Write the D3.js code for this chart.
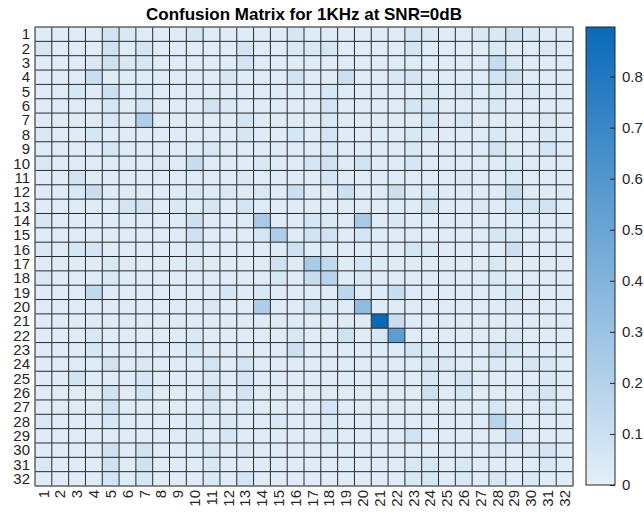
<!DOCTYPE html>
<html>
<head>
<meta charset="utf-8">
<script src="https://cdn.jsdelivr.net/npm/d3@7"></script>
<style>
  body { margin: 0; background: #fff; }
  text { font-family: "Liberation Sans", Arial, sans-serif; fill: #262626; }
</style>
</head>
<body>
<div id="chart"></div>
<script>
const title = "Confusion Matrix for 1KHz at SNR=0dB"
const classes = d3.range(1, 33).map(String)
const colorTicks = [0, 0.1, 0.2, 0.3, 0.4, 0.5, 0.6, 0.7, 0.8]
const colorMax = 0.897

// rows = true class, columns = predicted class
const matrix = [
  [.02,.02,.02,.02,.08,.05,.02,.02, .02,.06,.02,.02,.02,.02,.02,.06, .02,.02,.02,.02,.02,.02,.07,.05, .02,.02,.05,.05,.09,.05,.02,.02],
  [.06,.02,.02,.02,.08,.02,.07,.02, .02,.02,.02,.02,.07,.02,.02,.05, .05,.06,.02,.02,.02,.02,.07,.02, .02,.02,.02,.05,.02,.02,.05,.02],
  [.02,.02,.02,.05,.09,.05,.06,.02, .02,.02,.02,.02,.07,.02,.02,.02, .02,.02,.02,.02,.02,.02,.02,.02, .02,.02,.02,.13,.05,.02,.02,.02],
  [.02,.02,.02,.11,.02,.02,.02,.02, .02,.02,.02,.06,.02,.02,.02,.08, .02,.02,.10,.02,.02,.05,.07,.02, .02,.02,.02,.08,.09,.02,.02,.02],
  [.02,.02,.06,.02,.10,.02,.05,.02, .02,.02,.02,.02,.02,.02,.02,.02, .02,.06,.02,.02,.02,.02,.02,.06, .02,.05,.02,.05,.02,.05,.02,.02],
  [.02,.02,.02,.02,.06,.02,.07,.02, .02,.02,.08,.05,.02,.02,.02,.02, .02,.07,.02,.02,.02,.02,.07,.06, .02,.02,.02,.05,.02,.02,.02,.02],
  [.02,.02,.02,.02,.06,.02,.22,.02, .02,.02,.02,.02,.07,.02,.02,.02, .02,.05,.02,.02,.02,.02,.02,.07, .02,.06,.02,.02,.02,.02,.05,.02],
  [.05,.02,.02,.06,.02,.02,.02,.02, .02,.02,.02,.02,.06,.02,.02,.06, .02,.07,.02,.02,.02,.02,.05,.05, .02,.02,.02,.05,.02,.02,.05,.02],
  [.02,.02,.02,.02,.06,.02,.02,.02, .02,.02,.05,.02,.02,.02,.02,.02, .02,.05,.02,.02,.02,.02,.05,.02, .02,.02,.02,.08,.02,.02,.07,.02],
  [.05,.02,.02,.02,.02,.02,.02,.05, .02,.12,.02,.02,.02,.05,.02,.02, .06,.08,.02,.08,.02,.02,.06,.02, .02,.02,.02,.02,.05,.02,.02,.02],
  [.02,.02,.08,.02,.02,.02,.02,.02, .02,.02,.02,.02,.05,.02,.02,.02, .02,.07,.02,.02,.02,.02,.02,.02, .02,.05,.02,.02,.05,.02,.02,.02],
  [.02,.02,.05,.11,.02,.02,.02,.02, .02,.05,.02,.05,.02,.05,.02,.10, .02,.02,.10,.02,.02,.10,.02,.05, .02,.02,.02,.02,.11,.02,.02,.02],
  [.02,.02,.02,.02,.02,.07,.08,.02, .05,.02,.06,.02,.07,.02,.02,.02, .02,.02,.02,.02,.02,.02,.02,.09, .02,.02,.05,.02,.06,.07,.08,.02],
  [.06,.02,.02,.02,.02,.02,.02,.02, .02,.10,.02,.02,.02,.25,.02,.02, .06,.05,.02,.25,.02,.05,.02,.02, .02,.02,.02,.02,.02,.02,.02,.02],
  [.02,.02,.02,.02,.02,.02,.02,.02, .02,.09,.02,.02,.02,.06,.22,.02, .08,.08,.02,.07,.02,.02,.02,.02, .02,.02,.02,.06,.05,.02,.02,.02],
  [.05,.02,.06,.07,.02,.02,.02,.02, .02,.05,.02,.02,.02,.02,.02,.09, .02,.02,.02,.02,.02,.02,.07,.05, .02,.02,.02,.02,.10,.02,.02,.02],
  [.02,.02,.02,.02,.05,.02,.02,.02, .02,.05,.02,.02,.02,.02,.08,.02, .25,.15,.02,.07,.02,.02,.02,.02, .02,.02,.02,.05,.02,.02,.02,.02],
  [.05,.02,.02,.02,.05,.02,.02,.02, .02,.02,.02,.02,.02,.02,.06,.02, .12,.18,.02,.05,.02,.02,.02,.02, .02,.02,.02,.05,.02,.02,.02,.02],
  [.02,.02,.02,.15,.02,.02,.02,.02, .02,.02,.02,.06,.02,.05,.02,.02, .02,.02,.17,.02,.02,.12,.02,.02, .02,.02,.02,.02,.06,.02,.02,.02],
  [.02,.02,.02,.02,.02,.02,.02,.02, .02,.02,.05,.02,.02,.22,.02,.02, .08,.05,.02,.35,.02,.02,.02,.02, .02,.02,.02,.02,.05,.02,.02,.02],
  [.02,.02,.02,.02,.02,.02,.02,.02, .02,.02,.02,.02,.02,.02,.02,.02, .02,.02,.02,.02,.897,.12,.02,.02, .02,.02,.02,.02,.02,.02,.02,.02],
  [.02,.02,.02,.05,.02,.02,.02,.02, .02,.05,.02,.02,.02,.02,.02,.05, .02,.02,.09,.02,.06,.55,.02,.02, .02,.02,.02,.02,.05,.02,.02,.02],
  [.02,.02,.02,.06,.02,.02,.02,.02, .02,.06,.02,.02,.02,.02,.02,.10, .02,.02,.02,.02,.02,.02,.07,.05, .02,.02,.02,.07,.06,.02,.02,.02],
  [.02,.02,.02,.02,.08,.02,.05,.02, .02,.02,.07,.02,.07,.02,.02,.02, .02,.02,.02,.02,.02,.02,.02,.06, .05,.02,.02,.05,.02,.06,.05,.02],
  [.02,.02,.08,.02,.02,.02,.06,.02, .02,.02,.05,.02,.07,.02,.02,.02, .02,.02,.02,.02,.02,.02,.02,.06, .02,.07,.02,.02,.02,.02,.05,.02],
  [.02,.02,.02,.02,.08,.02,.07,.02, .02,.02,.08,.02,.07,.02,.02,.02, .02,.02,.02,.02,.02,.02,.02,.10, .02,.06,.02,.02,.02,.05,.07,.02],
  [.02,.02,.02,.02,.08,.02,.02,.02, .02,.02,.06,.02,.05,.02,.02,.02, .02,.07,.02,.02,.02,.02,.02,.02, .02,.02,.02,.06,.02,.02,.05,.02],
  [.05,.02,.02,.02,.06,.02,.02,.02, .02,.05,.02,.05,.02,.02,.05,.02, .02,.05,.02,.02,.02,.02,.02,.02, .02,.02,.02,.18,.05,.02,.02,.02],
  [.02,.02,.02,.02,.02,.02,.02,.02, .02,.05,.02,.06,.02,.02,.02,.02, .02,.05,.02,.02,.02,.02,.08,.02, .02,.02,.02,.02,.12,.02,.02,.02],
  [.02,.02,.02,.02,.09,.02,.08,.02, .02,.02,.06,.02,.05,.02,.02,.02, .02,.02,.02,.02,.02,.02,.02,.02, .02,.02,.02,.05,.02,.05,.07,.02],
  [.05,.02,.02,.02,.08,.02,.08,.02, .02,.02,.05,.02,.02,.02,.02,.02, .02,.02,.02,.02,.02,.02,.05,.06, .02,.05,.02,.02,.02,.02,.06,.02],
  [.02,.02,.02,.02,.07,.02,.06,.02, .02,.02,.05,.02,.07,.02,.02,.02, .02,.02,.02,.02,.02,.02,.05,.06, .02,.05,.02,.06,.02,.05,.02,.02]
]

const width = 644, height = 514
const plot = { left: 35, top: 27, right: 573, bottom: 486 }
const bar = { left: 586, right: 615 }

const svg = d3.select("#chart").append("svg")
  .attr("width", width)
  .attr("height", height)

const x = d3.scaleBand().domain(classes).range([plot.left, plot.right])
const y = d3.scaleBand().domain(classes).range([plot.top, plot.bottom])
const color = d3.scaleLinear()
  .domain([0, colorMax])
  .range(["#e4eff9", "#0a6ab8"])
  .clamp(true)

// cells
const cells = []
matrix.forEach((row, i) => row.forEach((v, j) => cells.push({ r: classes[i], c: classes[j], v: v })))

svg.append("g")
  .selectAll("rect")
  .data(cells)
  .join("rect")
    .attr("x", d => x(d.c))
    .attr("y", d => y(d.r))
    .attr("width", x.bandwidth() + 0.5)
    .attr("height", y.bandwidth() + 0.5)
    .attr("fill", d => color(d.v))

// grid lines
const grid = svg.append("g").attr("stroke", "#2a2a2a").attr("stroke-width", 1)
const xEdges = classes.map(c => x(c)).concat([plot.right])
const yEdges = classes.map(c => y(c)).concat([plot.bottom])
grid.selectAll(".v").data(xEdges).join("line")
  .attr("x1", d => d).attr("x2", d => d)
  .attr("y1", plot.top).attr("y2", plot.bottom)
grid.selectAll(".h").data(yEdges).join("line")
  .attr("x1", plot.left).attr("x2", plot.right)
  .attr("y1", d => d).attr("y2", d => d)

// outer border
svg.append("rect")
  .attr("x", plot.left).attr("y", plot.top)
  .attr("width", plot.right - plot.left).attr("height", plot.bottom - plot.top)
  .attr("fill", "none").attr("stroke", "#808080").attr("stroke-width", 1)

// y labels
svg.append("g")
  .selectAll("text")
  .data(classes)
  .join("text")
    .attr("x", plot.left - 5)
    .attr("y", d => y(d) + y.bandwidth() / 2)
    .attr("dy", "0.35em")
    .attr("text-anchor", "end")
    .style("font-size", "15px")
    .text(d => d)

// x labels (rotated)
svg.append("g")
  .selectAll("text")
  .data(classes)
  .join("text")
    .attr("transform", d => "translate(" + (x(d) + x.bandwidth() / 2) + "," + (plot.bottom + 4) + ") rotate(-90)")
    .attr("dy", "0.35em")
    .attr("text-anchor", "end")
    .style("font-size", "15px")
    .text(d => d)

// title
svg.append("text")
  .attr("x", (plot.left + plot.right) / 2)
  .attr("y", 20)
  .attr("text-anchor", "middle")
  .style("font-size", "17px")
  .style("font-weight", "bold")
  .style("fill", "#000")
  .text(title)

// colorbar
const cy = d3.scaleLinear().domain([0, colorMax]).range([plot.bottom - 1, plot.top])
const grad = svg.append("defs").append("linearGradient")
  .attr("id", "cbar")
  .attr("x1", 0).attr("y1", 1).attr("x2", 0).attr("y2", 0)
grad.selectAll("stop")
  .data([0, colorMax])
  .join("stop")
    .attr("offset", d => d / colorMax)
    .attr("stop-color", d => color(d))

svg.append("rect")
  .attr("x", bar.left).attr("y", cy(colorMax))
  .attr("width", bar.right - bar.left)
  .attr("height", cy(0) - cy(colorMax))
  .attr("fill", "url(#cbar)")
  .attr("stroke", "#262626")
  .attr("stroke-width", 1)

const cAxis = svg.append("g")
  .attr("transform", "translate(" + bar.right + ",0)")
  .call(d3.axisRight(cy).tickValues(colorTicks).tickFormat(d3.format("")).tickSizeInner(-5).tickSizeOuter(0).tickPadding(7))
cAxis.select(".domain").remove()
cAxis.selectAll("line").attr("stroke", "#262626")
cAxis.selectAll("text")
  .style("font-size", "15px")
  .style("font-family", "'Liberation Sans', Arial, sans-serif")
  .attr("fill", "#262626")
</script>
</body>
</html>
